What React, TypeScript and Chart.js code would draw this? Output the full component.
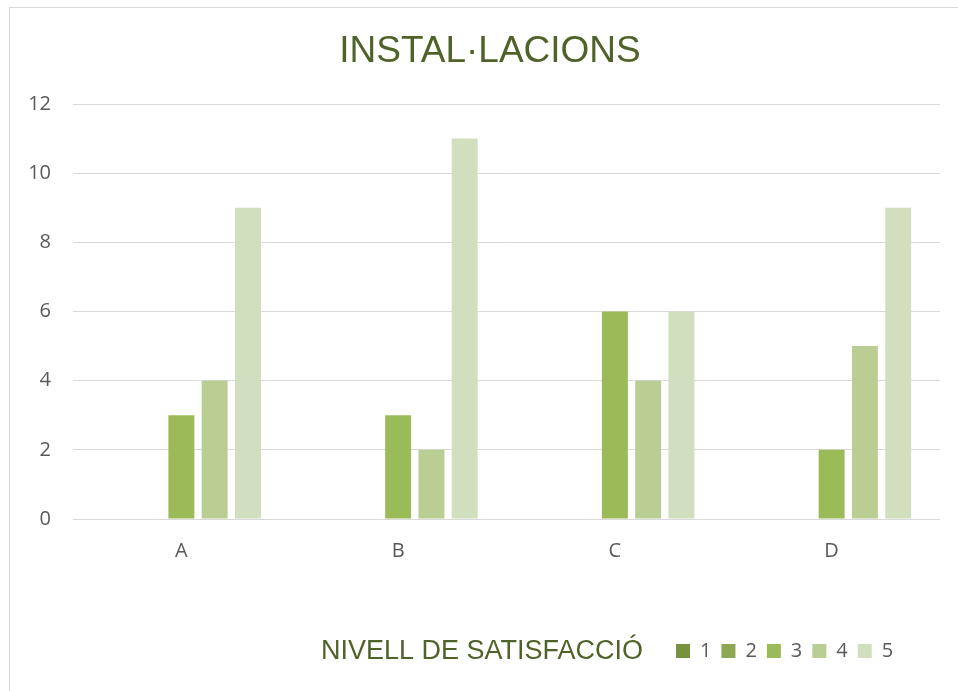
import React, { useEffect, useRef } from "react";
import { Chart, registerables } from "chart.js";

Chart.register(...registerables);

const categories = ["A", "B", "C", "D"];
const seriesNames = ["1", "2", "3", "4", "5"];
const level1 = [0, 0, 0, 0];
const level2 = [0, 0, 0, 0];
const level3 = [3, 3, 6, 2];
const level4 = [4, 2, 4, 5];
const level5 = [9, 11, 6, 9];
const seriesColors = ["#76923C", "#8DA852", "#9BBB59", "#BACE94", "#D2DFBF"];
const yMin = 0;
const yMax = 12;
const yStep = 2;
const titleText = "INSTAL·LACIONS";
const legendTitle = "NIVELL DE SATISFACCIÓ";

const LEGEND_START = 676;
const TITLE_CENTER = 490;
const TEXT_GREY = "#595959";
const TITLE_GREEN = "#4F6228";

const layoutTweaks = {
  id: "layoutTweaks",
  afterLayout(chart: any) {
    const lg = chart.legend;
    if (lg) {
      const pad = lg.options.labels.padding;
      const dx = LEGEND_START - (lg.left + pad);
      lg.left += dx;
      lg.right += dx;
    }
    const tb = chart.titleBlock;
    if (tb) {
      const dx = TITLE_CENTER - (tb.left + tb.right) / 2;
      tb.left += dx;
      tb.right += dx;
    }
  },
  afterDraw(chart: any) {
    const lg = chart.legend;
    if (!lg || !lg.legendHitBoxes || !lg.legendHitBoxes.length) return;
    const hb = lg.legendHitBoxes[0];
    const ctx = chart.ctx;
    ctx.save();
    ctx.font = "27px 'Liberation Sans', Arial, sans-serif";
    ctx.fillStyle = TITLE_GREEN;
    ctx.textAlign = "right";
    ctx.textBaseline = "alphabetic";
    ctx.fillText(legendTitle, hb.left - 33, hb.top + hb.height / 2 + 8);
    ctx.restore();
  },
};

export default function App() {
  const ref = useRef<HTMLCanvasElement | null>(null);

  useEffect(() => {
    if (!ref.current) return;
    const all = [level1, level2, level3, level4, level5];
    const chart = new Chart(ref.current, {
      type: "bar",
      data: {
        labels: categories,
        datasets: all.map((d, i) => ({
          label: seriesNames[i],
          data: d,
          backgroundColor: seriesColors[i],
          borderWidth: 0,
          categoryPercentage: 0.768,
          barPercentage: 0.78,
        })),
      },
      options: {
        responsive: false,
        animation: false,
        devicePixelRatio: 1,
        layout: { padding: { left: 22, right: 18, top: 0, bottom: 20 } },
        plugins: {
          title: {
            display: true,
            text: titleText,
            color: TITLE_GREEN,
            font: { family: "'Liberation Sans', Arial, sans-serif", size: 37, weight: "normal" },
            padding: { top: 30, bottom: 29.6 },
          },
          legend: {
            display: true,
            position: "bottom",
            align: "start",
            labels: {
              boxWidth: 14,
              boxHeight: 14,
              padding: 10,
              color: TEXT_GREY,
              font: { family: "'Open Sans', sans-serif", size: 20 },
            },
          },
          tooltip: { enabled: false },
        },
        scales: {
          x: {
            grid: { display: false },
            border: { display: false },
            ticks: {
              color: TEXT_GREY,
              padding: 12,
              font: { family: "'Open Sans', sans-serif", size: 20 },
            },
            afterFit(scale: any) {
              scale.height = 112;
            },
          },
          y: {
            min: yMin,
            max: yMax,
            border: { display: false },
            grid: { color: "#D9D9D9", lineWidth: 1, drawTicks: false },
            ticks: {
              stepSize: yStep,
              color: TEXT_GREY,
              padding: 22,
              font: { family: "'Open Sans', sans-serif", size: 20 },
            },
            afterFit(scale: any) {
              scale.width = 51;
            },
          },
        },
      },
      plugins: [layoutTweaks],
    } as any);
    return () => chart.destroy();
  }, []);

  return (
    <div
      style={{
        position: "absolute",
        left: 0,
        top: 0,
        width: 958,
        height: 691,
        overflow: "hidden",
        background: "#fff",
      }}
    >
      <div
        style={{
          position: "absolute",
          left: 9,
          top: 7,
          width: 1200,
          height: 1200,
          border: "1px solid #D9D9D9",
          boxSizing: "border-box",
        }}
      />
      <canvas
        ref={ref}
        width={958}
        height={691}
        style={{ position: "absolute", left: 0, top: 0, width: 958, height: 691, display: "block" }}
      />
    </div>
  );
}
